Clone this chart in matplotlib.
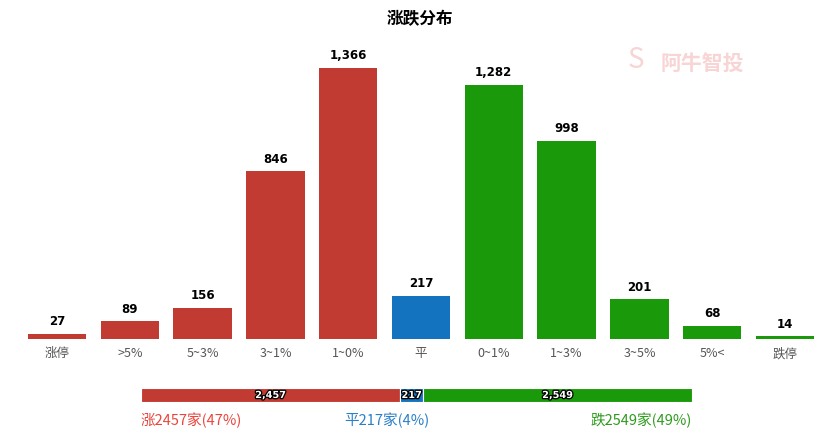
import matplotlib.pyplot as plt
import matplotlib.patheffects as pe

plt.rcParams['font.family'] = ['Noto Sans CJK SC', 'DejaVu Sans']

categories = ['涨停', '>5%', '5~3%', '3~1%', '1~0%', '平', '0~1%', '1~3%', '3~5%', '5%<', '跌停']
counts = [27, 89, 156, 846, 1366, 217, 1282, 998, 201, 68, 14]
groups = ['涨', '平', '跌']
group_counts = [2457, 217, 2549]
group_pct = [47, 4, 49]

red = '#c23b33'
blue = '#1473be'
green = '#1a9a0a'
bar_colors = [red] * 5 + [blue] + [green] * 5
group_colors = ['#e8453c', '#2a7fc7', '#2e9a1e']

fig = plt.figure(figsize=(8.4, 4.44), dpi=100)
W, H = 840, 444

# main bar chart
ax = fig.add_axes([20.6 / W, 1 - 339 / H, 800.8 / W, 299 / H])
x = range(len(categories))
ax.bar(x, counts, width=0.8, color=bar_colors)
ax.set_xlim(-0.5, len(categories) - 0.5)
ax.set_ylim(0, 1366 * 299 / 271)
for i, v in enumerate(counts):
    ax.text(i, v + 28, f'{v:,}', ha='center', va='bottom', fontsize=8.5,
            fontweight='bold', family=['DejaVu Sans'])
ax.set_xticks(list(x))
ax.set_xticklabels(categories, fontsize=9, color='#555555')
ax.tick_params(axis='x', length=0, pad=6)
ax.set_yticks([])
for s in ax.spines.values():
    s.set_visible(False)

fig.text(0.5, 1 - 19 / H, '涨跌分布', ha='center', va='center', fontsize=12, fontweight='bold')

# watermark
fig.text(660 / W, 1 - 64 / H, '阿牛智投', ha='left', va='center', fontsize=15,
         color='#f8d4d4', fontweight='bold')
fig.text(628 / W, 1 - 60 / H, 'S', ha='left', va='center', fontsize=20,
         color='#f8d4d4', style='italic')

# stacked summary bar
bx = fig.add_axes([141 / W, 1 - 402 / H, 551 / W, 14 / H])
left = 0
for c, n in zip([red, blue, green], group_counts):
    bx.barh(0, n, left=left, height=1, color=c, edgecolor='white', linewidth=0.8)
    bx.text(left + n / 2, 0, f'{n:,}', ha='center', va='center', fontsize=7,
            fontweight='bold', color='white', family=['DejaVu Sans'],
            path_effects=[pe.withStroke(linewidth=1.8, foreground='black')])
    left += n
bx.set_xlim(0, sum(group_counts))
bx.set_ylim(-0.5, 0.5)
bx.axis('off')

ty = 1 - 420 / H
fig.text(141 / W, ty, f'{groups[0]}{group_counts[0]}家({group_pct[0]}%)', ha='left', va='center',
         fontsize=10.5, color=group_colors[0])
fig.text(387 / W, ty, f'{groups[1]}{group_counts[1]}家({group_pct[1]}%)', ha='center', va='center',
         fontsize=10.5, color=group_colors[1])
fig.text(692 / W, ty, f'{groups[2]}{group_counts[2]}家({group_pct[2]}%)', ha='right', va='center',
         fontsize=10.5, color=group_colors[2])

fig.savefig('out.png', dpi=100)
